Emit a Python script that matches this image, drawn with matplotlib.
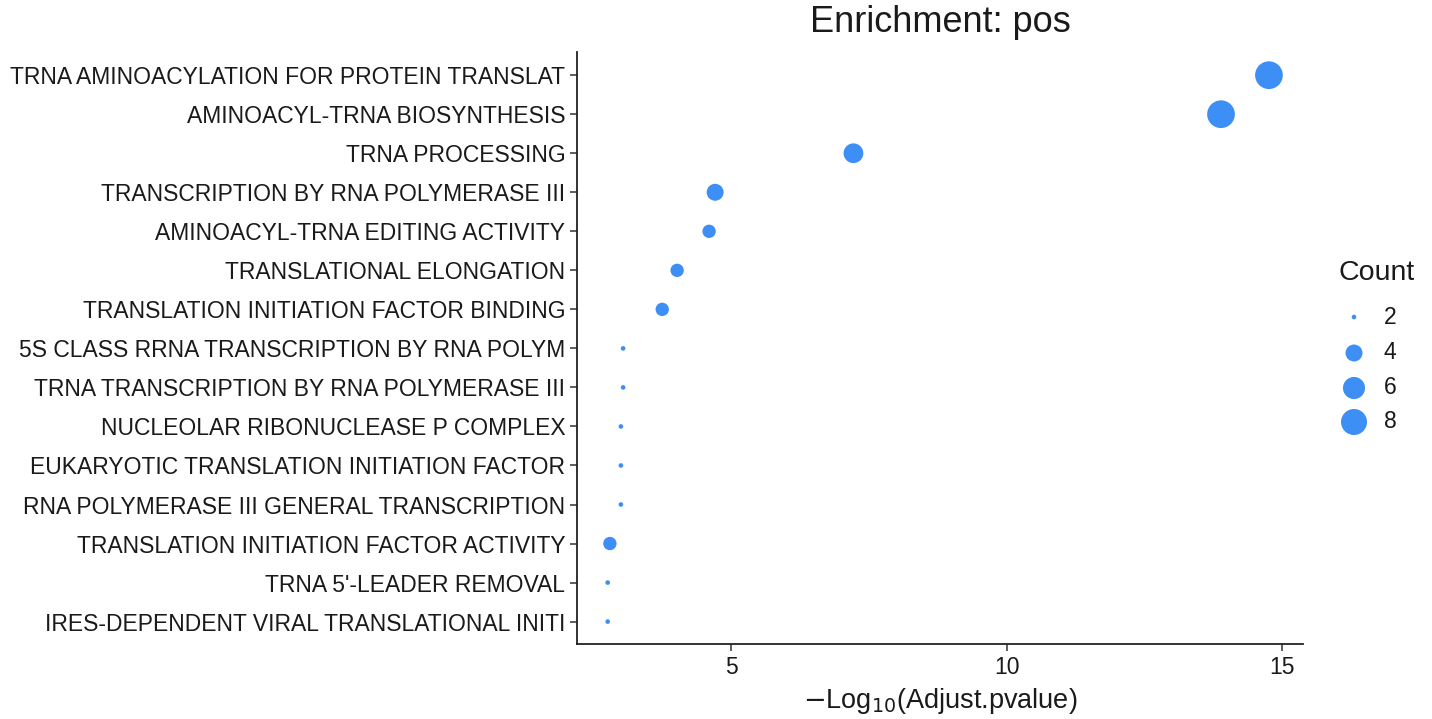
import matplotlib
matplotlib.use("Agg")
import matplotlib.pyplot as plt
import numpy as np

plt.rcParams["font.family"] = ["Liberation Sans", "DejaVu Sans"]

# terms, top to bottom
terms = [
    "TRNA AMINOACYLATION FOR PROTEIN TRANSLAT",
    "AMINOACYL-TRNA BIOSYNTHESIS",
    "TRNA PROCESSING",
    "TRANSCRIPTION BY RNA POLYMERASE III",
    "AMINOACYL-TRNA EDITING ACTIVITY",
    "TRANSLATIONAL ELONGATION",
    "TRANSLATION INITIATION FACTOR BINDING",
    "5S CLASS RRNA TRANSCRIPTION BY RNA POLYM",
    "TRNA TRANSCRIPTION BY RNA POLYMERASE III",
    "NUCLEOLAR RIBONUCLEASE P COMPLEX",
    "EUKARYOTIC TRANSLATION INITIATION FACTOR",
    "RNA POLYMERASE III GENERAL TRANSCRIPTION",
    "TRANSLATION INITIATION FACTOR ACTIVITY",
    "TRNA 5'-LEADER REMOVAL",
    "IRES-DEPENDENT VIRAL TRANSLATIONAL INITI",
]
neglog_p = [14.76, 13.89, 7.22, 4.71, 4.60, 4.02, 3.75,
            3.04, 3.04, 3.00, 3.00, 3.00, 2.80, 2.76, 2.76]
counts = [9, 9, 5, 4, 3, 3, 3, 2, 2, 2, 2, 2, 3, 2, 2]

legend_breaks = [2, 4, 6, 8]
COLOR = "#3D8EF5"
TXT = "#1a1a1a"
CMIN, CMAX = min(counts), max(counts)
W, H = 1432, 719


def diam_px(c):
    # ggplot-style area scale, range 1..6
    return 4.62 * (1 + 5 * np.sqrt((c - CMIN) / (CMAX - CMIN)))


def area_pt2(c):
    return (0.72 * diam_px(c)) ** 2


fig = plt.figure(figsize=(W / 100, H / 100), dpi=100)
ax = fig.add_axes([0.403, 0.104, 0.507, 0.824])

y = np.arange(len(terms))
ax.scatter(neglog_p, y, s=[area_pt2(c) for c in counts], color=COLOR,
           edgecolors="none", zorder=3)

ax.set_xlim(2.205, 15.38)
ax.set_ylim(len(terms) - 1 + 0.58, -0.6)
ax.set_xticks([5, 10, 15])
ax.set_yticks(y)
ax.set_yticklabels(terms)
ax.tick_params(axis="both", labelsize=16.5, colors="#333333", labelcolor=TXT,
               length=5, width=1.1)
for side in ("top", "right"):
    ax.spines[side].set_visible(False)
for side in ("left", "bottom"):
    ax.spines[side].set_linewidth(1.3)
    ax.spines[side].set_color("#222222")

ax.set_xlabel(r"$-$Log$_{10}$(Adjust.pvalue)", fontsize=19.5, color=TXT, labelpad=5)
ax.set_title("Enrichment: pos", fontsize=26, color=TXT, pad=14)

# legend, drawn by hand in figure-pixel layout
leg_x, leg_rows = 1354, [317, 353, 388, 422]
fig.text(1338 / W, 1 - 273 / H, "Count", fontsize=20.5, color=TXT,
         ha="left", va="center")
for c, ry in zip(legend_breaks, leg_rows):
    ax.scatter([leg_x / W], [1 - ry / H], s=area_pt2(c), color=COLOR,
               edgecolors="none", transform=fig.transFigure, clip_on=False)
    fig.text(1384 / W, 1 - ry / H, str(c), fontsize=16.5, color=TXT,
             ha="left", va="center")

fig.savefig("out.png", dpi=100)
